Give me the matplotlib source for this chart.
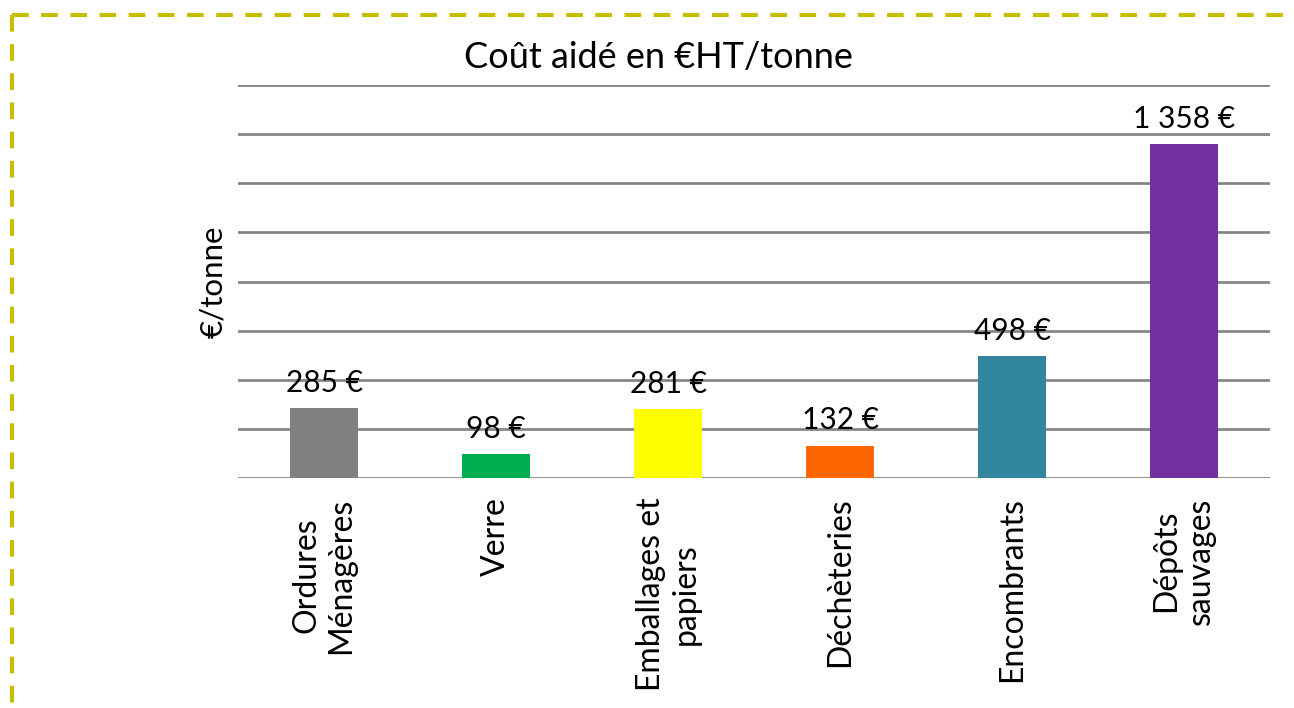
import matplotlib
matplotlib.use("Agg")
import matplotlib.pyplot as plt
from matplotlib.lines import Line2D

categories = ["Ordures\nMénagères", "Verre", "Emballages et\npapiers", "Déchèteries", "Encombrants", "Dépôts\nsauvages"]
values = [285, 98, 281, 132, 498, 1358]
value_labels = ["285 €", "98 €", "281 €", "132 €", "498 €", "1 358 €"]
colors = ["#808080", "#00B050", "#FFFF00", "#FF6600", "#31859C", "#7030A0"]
yticks = [0, 200, 400, 600, 800, 1000, 1200, 1400, 1600]

plt.rcParams['font.family'] = ['Lato', 'DejaVu Sans']

W, H = 1294, 708
fig = plt.figure(figsize=(W/100, H/100), dpi=100)
ax = fig.add_axes([238/W, 1-478/H, (1270-238)/W, (478-85)/H])

x = list(range(len(categories)))
ax.bar(x, values, width=0.4, color=colors, zorder=3)
ax.set_xlim(-0.5, len(categories)-0.5)
ax.set_ylim(0, 1600)
ax.set_yticks(yticks)
ax.set_yticklabels([])
ax.tick_params(axis='y', length=0)
ax.tick_params(axis='x', length=0, pad=14)
ax.yaxis.grid(True, color="#868686", linewidth=2, zorder=0)
for s in ax.spines.values():
    s.set_visible(False)
ax.set_xticks(x)
ax.set_xticklabels(categories, rotation=90, ha='center', va='top', multialignment='center',
                   fontsize=23, linespacing=1.2)

for xi, v, lab in zip(x, values, value_labels):
    ax.annotate(lab, (xi, v), xytext=(0, 8), textcoords='offset points',
                ha='center', va='bottom', fontsize=21.5, zorder=4)

ax.set_ylabel("€/tonne", fontsize=22.5, labelpad=4)
fig.text(658/W, 1-58/H, "Coût aidé en €HT/tonne", ha='center', va='center', fontsize=26)

border_color = "#C8BE00"
fig.add_artist(Line2D([12/W, 1.0], [1-15/H, 1-15/H], transform=fig.transFigure,
                      color=border_color, linewidth=3, linestyle=(0, (4, 3))))
fig.add_artist(Line2D([12/W, 12/W], [1-15/H, 0], transform=fig.transFigure,
                      color=border_color, linewidth=3, linestyle=(0, (4, 3))))

fig.savefig("out.png", dpi=100)
